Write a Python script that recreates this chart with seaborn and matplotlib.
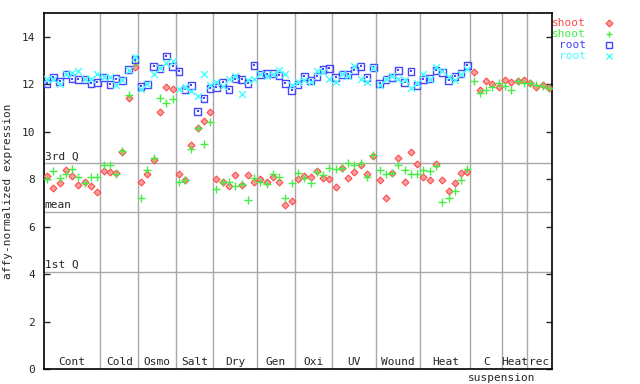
import numpy as np
import matplotlib
matplotlib.use("Agg")
import matplotlib.pyplot as plt
from matplotlib.lines import Line2D
import seaborn as sns

# groups along the x axis and how many samples each one has
groups = ["Cont", "Cold", "Osmo", "Salt", "Dry", "Gen", "Oxi", "UV", "Wound", "Heat", "C", "Heat", "rec"]
group_sizes = [9, 6, 6, 6, 7, 6, 6, 7, 7, 8, 5, 4, 4]

# shoot replicates (81 samples)
shoot_rep1 = [8.14, 7.61, 7.85, 8.37, 8.13, 7.75, 7.90, 7.71, 7.44,
              8.35, 8.28, 8.24, 9.14, 11.43, 12.71,
              7.86, 8.20, 8.79, 10.81, 11.87, 11.78,
              8.20, 7.95, 9.42, 10.14, 10.47, 10.81,
              7.99, 7.86, 7.69, 8.16, 7.74, 8.16, 7.86,
              7.99, 7.90, 8.07, 7.86, 6.89, 7.06,
              7.99, 8.13, 8.07, 8.33, 8.03, 7.99,
              7.65, 8.47, 8.03, 8.28, 8.58, 8.20, 8.96,
              7.95, 7.19, 8.24, 8.91, 7.86, 9.13, 8.62,
              8.11, 7.95, 8.62, 7.95, 7.48, 7.82, 8.24, 8.28,
              12.50, 11.77, 12.12, 11.99, 11.87,
              12.16, 12.08, 12.12, 12.16,
              12.03, 11.87, 11.95, 11.82]
shoot_rep2 = [7.99, 8.34, 8.03, 8.23, 8.41, 8.07, 7.85, 8.07, 8.07,
              8.58, 8.58, 8.23, 9.17, 11.53, 12.88,
              7.19, 8.37, 8.87, 11.40, 11.19, 11.36,
              7.90, 7.95, 9.29, 10.14, 9.50, 10.39,
              7.57, 7.86, 7.86, 7.69, 7.78, 7.10, 8.03,
              7.90, 7.78, 8.20, 8.07, 7.19, 7.82,
              8.24, 8.03, 7.82, 8.28, 8.16, 8.45,
              8.41, 8.45, 8.66, 8.58, 8.66, 8.11, 9.00,
              8.37, 8.20, 8.24, 8.58, 8.37, 8.20, 8.20,
              8.37, 8.33, 8.54, 7.02, 7.19, 7.48, 7.95, 8.41,
              12.12, 11.61, 11.74, 11.87, 12.03,
              11.91, 11.74, 12.12, 12.03,
              12.03, 11.95, 11.91, 11.82]

# root replicates (first 68 samples only)
root_rep1 = [12.03, 12.31, 12.12, 12.41, 12.24, 12.20, 12.20, 12.03, 12.08,
             12.29, 11.99, 12.24, 12.16, 12.61, 13.04,
             11.91, 11.99, 12.75, 12.67, 13.19, 12.75,
             12.54, 11.78, 11.95, 10.85, 11.40, 11.82,
             11.87, 12.08, 11.78, 12.24, 12.20, 12.03, 12.79,
             12.41, 12.45, 12.45, 12.37, 12.03, 11.74,
             11.99, 12.33, 12.16, 12.33, 12.62, 12.67,
             12.29, 12.41, 12.41, 12.58, 12.75, 12.29, 12.71,
             12.03, 12.20, 12.29, 12.58, 12.08, 12.54, 11.95,
             12.20, 12.24, 12.58, 12.50, 12.16, 12.33, 12.45, 12.79]
root_rep2 = [12.20, 12.24, 11.99, 12.41, 12.48, 12.54, 12.20, 12.24, 12.41,
             12.29, 12.29, 11.95, 12.16, 12.61, 13.13,
             11.78, 11.99, 12.45, 12.67, 12.88, 12.96,
             11.78, 11.87, 11.70, 11.49, 12.41, 11.95,
             12.08, 11.91, 12.24, 12.33, 11.57, 12.16, 12.24,
             12.41, 12.33, 12.41, 12.58, 12.45, 11.95,
             12.08, 12.16, 12.08, 12.54, 12.50, 12.24,
             12.08, 12.41, 12.33, 12.75, 12.24, 12.08, 12.67,
             11.95, 12.20, 12.33, 12.20, 12.16, 11.82, 12.03,
             12.41, 12.24, 12.71, 12.54, 12.29, 12.16, 12.45, 12.62]

# reference lines
third_q = 8.66
mean_val = 6.60
first_q = 4.09

RED = "#ff4a4a"
GREEN = "#44ee44"
BLUE = "#4646ff"
CYAN = "#44ffff"
GRID = "#a8a8a8"

sns.set_style("white")
plt.rcParams["font.family"] = ["DejaVu Sans Mono", "DejaVu Sans"]

fig = plt.figure(figsize=(6.4, 3.84), dpi=100)
ax = fig.add_axes([44 / 640, 15 / 384, 508 / 640, 356 / 384])

n = len(shoot_rep1)
x_shoot = np.arange(n)
x_root = np.arange(len(root_rep1))

# group separators
bounds = np.cumsum(group_sizes)
for b in bounds[:-1]:
    ax.axvline(b - 0.5, color=GRID, lw=1.0, zorder=1)
for yv in (third_q, mean_val, first_q):
    ax.axhline(yv, color=GRID, lw=1.0, zorder=1)

ax.text(-0.4, third_q + 0.08, "3rd Q", fontsize=8, va="bottom", ha="left")
ax.text(-0.4, mean_val + 0.08, "mean", fontsize=8, va="bottom", ha="left")
ax.text(-0.4, first_q + 0.08, "1st Q", fontsize=8, va="bottom", ha="left")

sns.scatterplot(x=x_shoot, y=shoot_rep1, marker="D", s=12, color="#ffa0a0",
                edgecolor=RED, linewidth=0.8, ax=ax, zorder=3)
sns.scatterplot(x=x_shoot, y=shoot_rep2, marker="+", s=32, color=GREEN,
                linewidth=1.0, ax=ax, zorder=3)
sns.scatterplot(x=x_root, y=root_rep1, marker="s", s=22, facecolor="none",
                edgecolor=BLUE, linewidth=1.0, ax=ax, zorder=3)
sns.scatterplot(x=x_root, y=root_rep1, marker="s", s=1.5, color=BLUE,
                linewidth=0, ax=ax, zorder=3)
sns.scatterplot(x=x_root, y=root_rep2, marker="x", s=24, color=CYAN,
                linewidth=1.0, ax=ax, zorder=3)

ax.set_xlim(-0.5, n - 0.5)
ax.set_ylim(0, 15)
ax.set_xticks([])
ax.set_yticks(range(0, 15, 2))
ax.tick_params(axis="y", direction="in", left=True, right=True, length=4.5,
               width=1, labelsize=8, pad=6.5)
ax.set_ylabel("affy-normalized expression", fontsize=8, labelpad=6)
for sp in ax.spines.values():
    sp.set_color("black")
    sp.set_linewidth(1.2)

# group names inside the bottom of the plot
start = 0
for name, size in zip(groups, group_sizes):
    ax.text(start + size / 2 - 0.5, 0.08, name, fontsize=8, ha="center", va="bottom")
    start += size
ax.text(bounds[10] - 0.5, -0.024, "suspension", fontsize=8, ha="center", va="center",
        transform=ax.get_xaxis_transform())

# legend at the right: text then marker
legend_rows = [("shoot", RED, "D"), ("shoot", GREEN, "+"), ("root", BLUE, "s"), ("root", CYAN, "x")]
for k, (lab, col, mk) in enumerate(legend_rows):
    yy = 1 - (23 + 11 * k) / 384
    fig.text(586 / 640, yy, lab, color=col, fontsize=8, ha="right", va="center")
    if mk == "s":
        fig.add_artist(Line2D([609 / 640], [yy], marker="s", markersize=5, mfc="none",
                              mec=col, mew=1.0, ls="none", transform=fig.transFigure))
    elif mk == "D":
        fig.add_artist(Line2D([609 / 640], [yy], marker="D", markersize=3.5, mfc="#ffa0a0",
                              mec=col, mew=0.8, ls="none", transform=fig.transFigure))
    else:
        fig.add_artist(Line2D([609 / 640], [yy], marker=mk, markersize=5, color=col,
                              mew=1.0, ls="none", transform=fig.transFigure))

fig.savefig("out.png", dpi=100)
